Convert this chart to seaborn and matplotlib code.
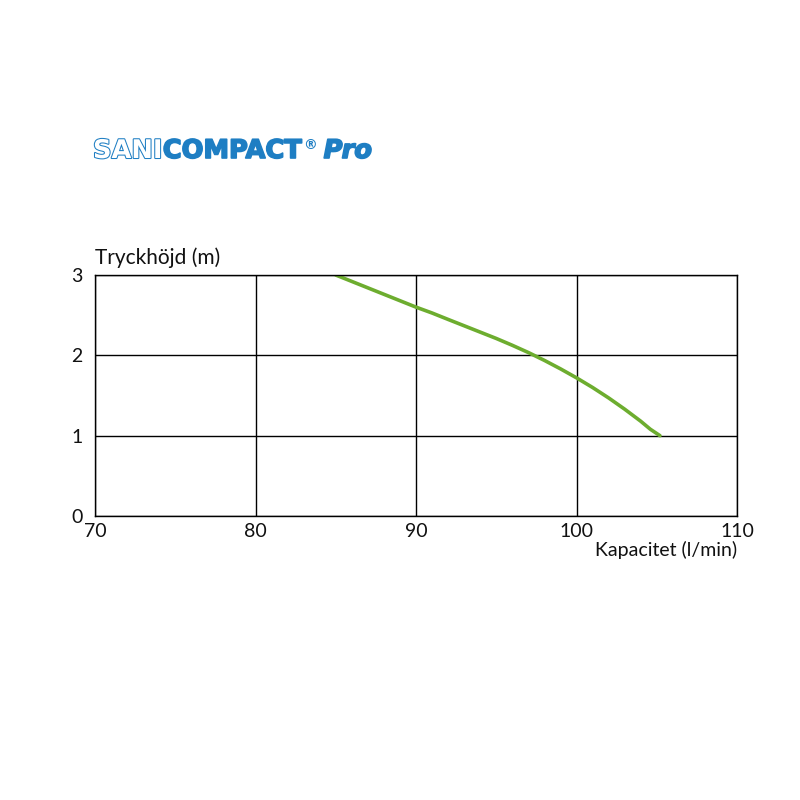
import matplotlib
matplotlib.use("Agg")
import matplotlib.pyplot as plt
import matplotlib.patheffects as pe
import seaborn as sns
import pandas as pd

# Pump curve
flow = [85.0, 86.0, 87.0, 88.0, 89.0, 90.0, 91.0, 92.0, 93.0, 94.0, 95.0,
        96.0, 97.0, 98.0, 99.0, 100.0, 101.0, 102.0, 103.0, 104.0, 104.6, 105.2]
head = [3.0, 2.92, 2.84, 2.76, 2.68, 2.60, 2.527, 2.447, 2.368, 2.289, 2.21,
        2.125, 2.035, 1.937, 1.832, 1.72, 1.60, 1.47, 1.33, 1.18, 1.08, 1.0]
x_ticks = [70, 80, 90, 100, 110]
y_ticks = [0, 1, 2, 3]

df = pd.DataFrame({"flow": flow, "head": head})

sns.set_style("white")
plt.rcParams["font.family"] = ["Lato", "DejaVu Sans"]

fig = plt.figure(figsize=(8, 8), dpi=100)
ax = fig.add_axes([0.11875, 0.355, 0.8025, 0.30125])

sns.lineplot(data=df, x="flow", y="head", color="#6DAD2F", linewidth=2.6, ax=ax)

ax.set_xlim(70, 110)
ax.set_ylim(0, 3)
ax.set_xticks(x_ticks)
ax.set_yticks(y_ticks)
ax.tick_params(length=0, labelsize=14, colors="#111111")
ax.tick_params(axis="x", pad=5)
ax.tick_params(axis="y", pad=9)
ax.grid(True, color="black", linewidth=1)
for s in ax.spines.values():
    s.set_color("black")
    s.set_linewidth(1)
ax.set_xlabel("")
ax.set_ylabel("")

fig.text(95 / 800, 1 - 258 / 800, "Tryckhöjd (m)", fontsize=15, ha="left", va="center", color="#111111")
fig.text(737 / 800, 1 - 550 / 800, "Kapacitet (l/min)", fontsize=14, ha="right", va="center", color="#111111")

# Brand header
blue = "#1E7EC3"
renderer = fig.canvas.get_renderer()
x0 = 93 / 800
y0 = 1 - 158 / 800
t1 = fig.text(x0, y0, "SANI", fontsize=18.5, fontweight="bold", color="white", family="DejaVu Sans",
              va="baseline", path_effects=[pe.Stroke(linewidth=1.5, foreground=blue), pe.Normal()])
bb = t1.get_window_extent(renderer)
x1 = bb.x1 / 800
t2 = fig.text(x1, y0, "COMPACT", fontsize=18.5, fontweight="heavy", color=blue, family="DejaVu Sans",
              va="baseline", path_effects=[pe.Stroke(linewidth=1.2, foreground=blue), pe.Normal()])
bb = t2.get_window_extent(renderer)
x2 = bb.x1 / 800 + 0.002
t3 = fig.text(x2, y0 + 0.011, "®", fontsize=10, fontweight="bold", color=blue, family="DejaVu Sans",
              va="baseline")
bb = t3.get_window_extent(renderer)
x3 = bb.x1 / 800 + 0.008
fig.text(x3, y0, "Pro", fontsize=18.5, fontweight="heavy", style="italic", color=blue,
         family="DejaVu Sans", va="baseline",
         path_effects=[pe.Stroke(linewidth=1.2, foreground=blue), pe.Normal()])

fig.savefig("out.png", dpi=100)
